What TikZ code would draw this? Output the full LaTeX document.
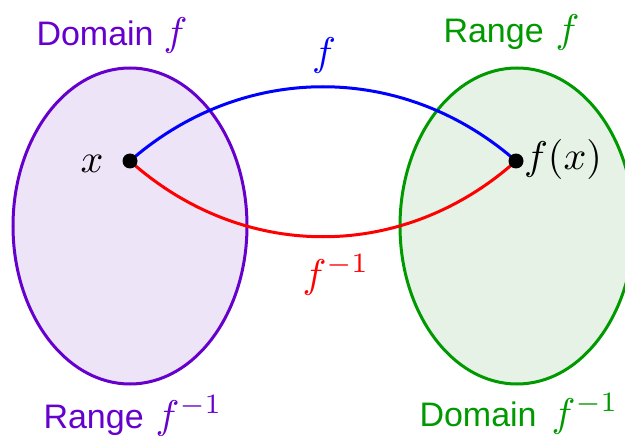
\documentclass[tikz,border=0pt]{standalone}
\usepackage{fontspec}
\usepackage{graphicx}
\setmainfont{Liberation Sans}
\definecolor{dompurple}{HTML}{6600CC}
\definecolor{dompurplefill}{HTML}{EEE4F8}
\definecolor{rangreen}{HTML}{009900}
\definecolor{rangreenfill}{HTML}{E6F2E6}
\newcommand{\mf}[1]{\scalebox{4}{\fontsize{10}{12}\selectfont$#1$}}
\begin{document}
\begin{tikzpicture}[x=1pt,y=-1pt,line width=3pt,
  lbl/.style={inner sep=0pt,font=\fontsize{34}{40}\selectfont,anchor=base west},
  mlbl/.style={inner sep=0pt},
  dotnode/.style={circle,fill=black,inner sep=0pt,minimum size=15pt}]
\useasboundingbox (0,0) rectangle (625,436);
\clip (0,0) rectangle (625,436);
\draw[dompurple, fill=dompurplefill] (130,226) ellipse [x radius=117, y radius=158];
\draw[rangreen, fill=rangreenfill] (517,226) ellipse [x radius=117, y radius=158];
\coordinate (px) at (130,161);
\coordinate (pfx) at (516,161);
\draw[blue] (px) .. controls (243,62) and (403,62) .. (pfx);
\draw[red] (px) .. controls (243,262) and (403,262) .. (pfx);
\node[dotnode] (xdot) at (px) {};
\node[dotnode] (fxdot) at (pfx) {};
\node[mlbl] (xlab) at (92,164) {\mf{x}};
\node[mlbl] (fxlab) at (563,160) {\mf{f(x)}};
\node[mlbl,text=blue] (flab) at (324,56) {\mf{f}};
\node[mlbl,text=red] (finvlab) at (336,275) {\mf{f^{-1}}};
\node[lbl,text=dompurple] (domf) at (35,46) {Domain\hspace{10pt}\mf{f}};
\node[lbl,text=rangreen] (ranf) at (442,43) {Range\hspace{12pt}\mf{f}};
\node[lbl,text=dompurple] (ranfinv) at (42,428) {Range\hspace{12pt}\mf{f^{-1}}};
\node[lbl,text=rangreen] (domfinv) at (418,426) {Domain\hspace{15pt}\mf{f^{-1}}};
\end{tikzpicture}
\end{document}
